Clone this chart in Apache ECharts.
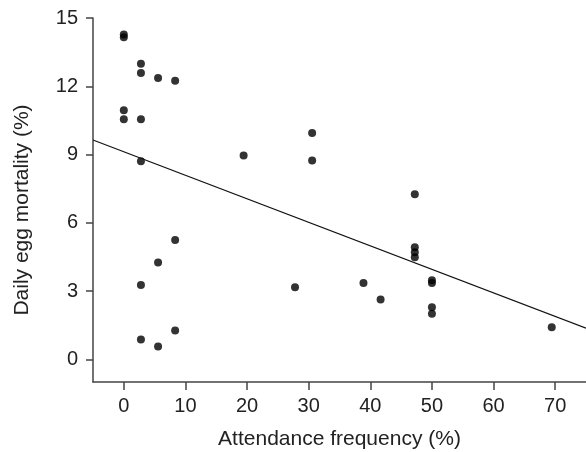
<!DOCTYPE html>
<html>
<head>
<meta charset="utf-8">
<script src="https://cdn.jsdelivr.net/npm/echarts@6/dist/echarts.min.js"></script>
<style>
    html, body { margin: 0; padding: 0; background: #fff; }
    #chart { width: 586px; height: 452px; }
</style>
</head>
<body>
<div id="chart"></div>
<script type="text/javascript">
    // attendance frequency (%) and daily egg mortality (%) per nest
    var attendance = [0, 0, 0, 0,
        2.78, 2.78, 2.78, 2.78, 2.78, 2.78,
        5.56, 5.56, 5.56,
        8.33, 8.33, 8.33,
        19.44, 27.78, 30.56, 30.56, 38.89, 41.67,
        47.22, 47.22, 47.22, 47.22,
        50, 50, 50, 50,
        69.44];
    var mortality = [14.27, 14.15, 10.95, 10.55,
        12.99, 12.58, 10.55, 8.70, 3.26, 0.87,
        12.36, 4.25, 0.56,
        12.24, 5.24, 1.26,
        8.96, 3.17, 9.95, 8.74, 3.35, 2.63,
        7.25, 4.92, 4.70, 4.48,
        3.47, 3.35, 2.29, 2.00,
        1.41];
    // regression line ends
    var fitX = [-5, 75];
    var fitY = [9.64, 1.37];

    var xTicks = [0, 10, 20, 30, 40, 50, 60, 70];
    var yTicks = [0, 3, 6, 9, 12, 15];

    var points = [];
    for (var i = 0; i < attendance.length; i++) {
        points.push([attendance[i], mortality[i]]);
    }
    var fit = [];
    for (var j = 0; j < fitX.length; j++) {
        fit.push([fitX[j], fitY[j]]);
    }

    var axisColor = '#444';
    var textColor = '#222';
    var font = 'Liberation Sans, Arial, Helvetica, sans-serif';

    var option = {
        animation: false,
        grid: { left: 93, right: 0, top: 18, bottom: 70, outerBoundsMode: 'none', containLabel: false },
        xAxis: {
            type: 'value',
            min: -5,
            max: 75,
            name: 'Attendance frequency (%)',
            nameLocation: 'middle',
            nameGap: 47,
            nameTextStyle: { color: textColor, fontSize: 21, fontFamily: font },
            axisLine: { onZero: false, lineStyle: { color: axisColor, width: 1.5 } },
            axisTick: { customValues: xTicks, length: 8, lineStyle: { color: axisColor, width: 1.5 } },
            axisLabel: { customValues: xTicks, margin: 14, color: textColor, fontSize: 20, fontFamily: font },
            splitLine: { show: false }
        },
        yAxis: {
            type: 'value',
            min: -1,
            max: 15,
            name: 'Daily egg mortality (%)',
            nameLocation: 'middle',
            nameGap: 60,
            nameTextStyle: { color: textColor, fontSize: 21, fontFamily: font, padding: [0, 20, 0, 0] },
            axisLine: { show: true, onZero: false, lineStyle: { color: axisColor, width: 1.5 } },
            axisTick: { show: true, customValues: yTicks, length: 7, lineStyle: { color: axisColor, width: 1.5 } },
            axisLabel: { customValues: yTicks, margin: 15, color: textColor, fontSize: 20, fontFamily: font },
            splitLine: { show: false }
        },
        series: [
            {
                type: 'scatter',
                data: points,
                symbol: 'circle',
                symbolSize: 8,
                itemStyle: { color: '#000' }
            },
            {
                type: 'line',
                data: fit,
                symbol: 'none',
                lineStyle: { color: '#111', width: 1.2 }
            }
        ]
    };

    var chart = echarts.init(document.getElementById('chart'));
    chart.setOption(option);
</script>
</body>
</html>
